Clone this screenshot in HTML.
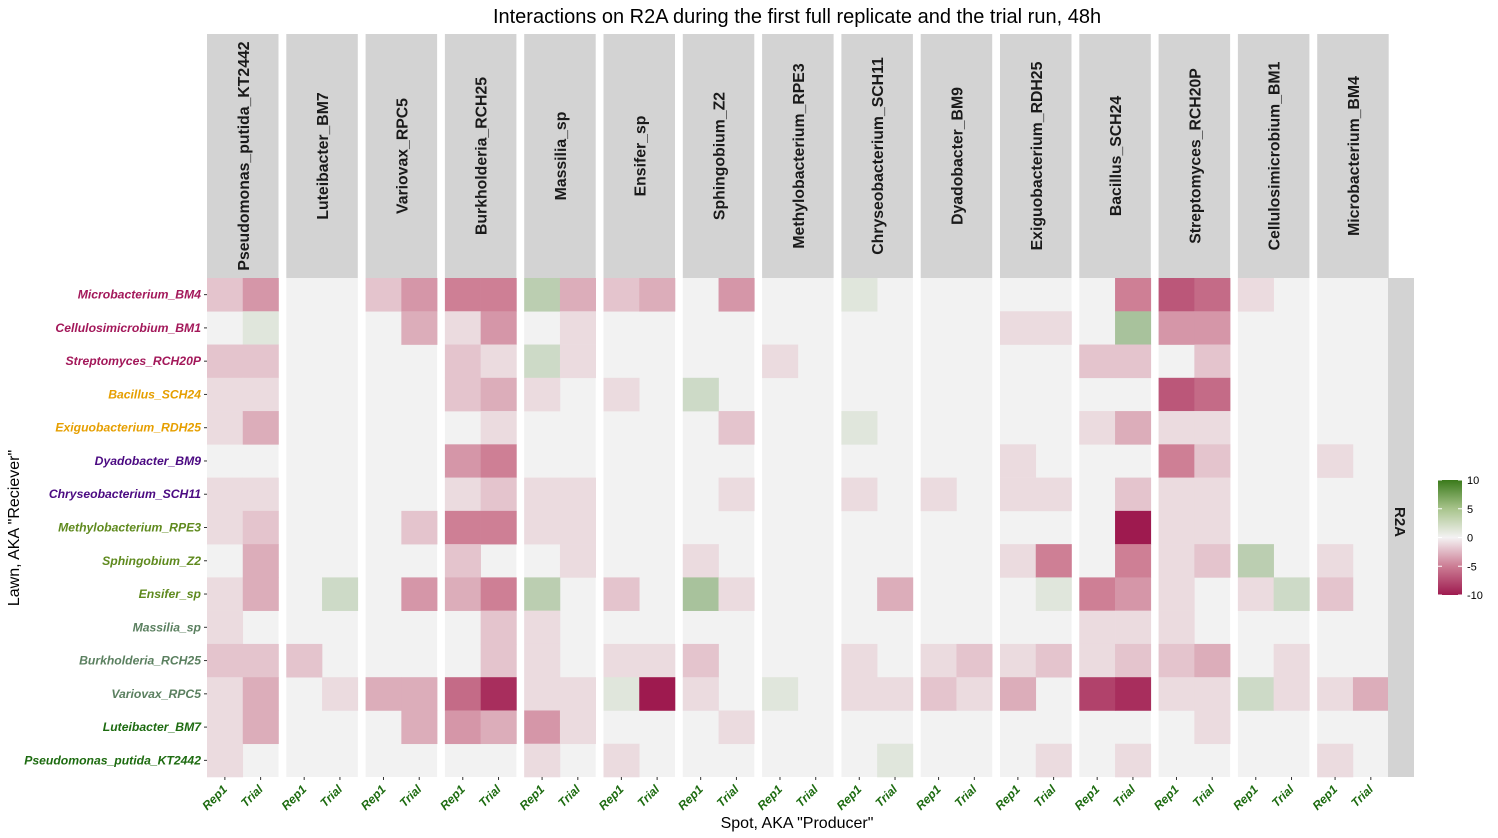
<!DOCTYPE html>
<html><head><meta charset="utf-8"><style>
html,body{margin:0;padding:0;background:#fff;}
svg{display:block;font-family:"Liberation Sans",Arial,sans-serif;}
</style></head><body>
<svg id="chart" width="1498" height="838" viewBox="0 0 1498 838" xmlns="http://www.w3.org/2000/svg">
<text x="797" y="23" text-anchor="middle" font-size="20" fill="#000">Interactions on R2A during the first full replicate and the trial run, 48h</text>
<g id="panels"></g>
<g id="ylabels"></g>
<g id="xlabels"></g>
<rect x="1388" y="278" width="26" height="499" fill="#d3d3d3"/>
<text transform="translate(1395,522) rotate(90)" text-anchor="middle" font-size="15" font-weight="bold" fill="#1a1a1a">R2A</text>
<text x="797" y="828" text-anchor="middle" font-size="16" fill="#000">Spot, AKA "Producer"</text>
<text transform="translate(19,528) rotate(-90)" text-anchor="middle" font-size="16" fill="#000">Lawn, AKA "Reciever"</text>
<defs><linearGradient id="lg" x1="0" y1="0" x2="0" y2="1">
<stop offset="0" stop-color="#3a7a1a"/><stop offset="0.25" stop-color="#a8c48c"/><stop offset="0.5" stop-color="#f4f2f3"/><stop offset="0.75" stop-color="#cc7d94"/><stop offset="1" stop-color="#9e1a4f"/></linearGradient></defs>
<g>
<rect x="1438" y="480" width="24" height="115" fill="url(#lg)"/>
<g id="legendticks"></g>
</g>
</svg>
<script>
const producers=["Pseudomonas_putida_KT2442","Luteibacter_BM7","Variovax_RPC5","Burkholderia_RCH25","Massilia_sp","Ensifer_sp","Sphingobium_Z2","Methylobacterium_RPE3","Chryseobacterium_SCH11","Dyadobacter_BM9","Exiguobacterium_RDH25","Bacillus_SCH24","Streptomyces_RCH20P","Cellulosimicrobium_BM1","Microbacterium_BM4"];
const subcols=["Rep1","Trial"];
const receivers=["Microbacterium_BM4","Cellulosimicrobium_BM1","Streptomyces_RCH20P","Bacillus_SCH24","Exiguobacterium_RDH25","Dyadobacter_BM9","Chryseobacterium_SCH11","Methylobacterium_RPE3","Sphingobium_Z2","Ensifer_sp","Massilia_sp","Burkholderia_RCH25","Variovax_RPC5","Luteibacter_BM7","Pseudomonas_putida_KT2442"];
const receiverColors=["#a3185a","#a3185a","#a3185a","#e69f00","#e69f00","#4b0a82","#4b0a82","#5f8a1e","#5f8a1e","#5f8a1e","#5b8060","#5b8060","#5b8060","#1d6b10","#1d6b10"];
const legendTicks=[10,5,0,-5,-10];
const n=null;
const row0=[-2,-4, n,n, -2,-4, -5,-5, 3,-3, -2,-3, n,-4, n,n, 1,n, n,n, n,n, n,-5, -7,-6, -1,n, n,n];
const row1=[n,1, n,n, n,-3, -1,-4, n,-1, n,n, n,n, n,n, n,n, n,n, -1,-1, n,4, -4,-4, n,n, n,n];
const row2=[-2,-2, n,n, n,n, -2,-1, 2,-1, n,n, n,n, -1,n, n,n, n,n, n,n, -2,-2, n,-2, n,n, n,n];
const row3=[-1,-1, n,n, n,n, -2,-3, -1,n, -1,n, 2,n, n,n, n,n, n,n, n,n, n,n, -7,-6, n,n, n,n];
const row4=[-1,-3, n,n, n,n, n,-1, n,n, n,n, n,-2, n,n, 1,n, n,n, n,n, -1,-3, -1,-1, n,n, n,n];
const row5=[n,n, n,n, n,n, -4,-5, n,n, n,n, n,n, n,n, n,n, n,n, -1,n, n,n, -5,-2, n,n, -1,n];
const row6=[-1,-1, n,n, n,n, -1,-2, -1,-1, n,n, n,-1, n,n, -1,n, -1,n, -1,-1, n,-2, -1,-1, n,n, n,n];
const row7=[-1,-2, n,n, n,-2, -5,-5, -1,-1, n,n, n,n, n,n, n,n, n,n, n,n, n,-10, -1,-1, n,n, n,n];
const row8=[n,-3, n,n, n,n, -2,n, n,-1, n,n, -1,n, n,n, n,n, n,n, -1,-5, n,-5, -1,-2, 3,n, -1,n];
const row9=[-1,-3, n,2, n,-4, -3,-5, 3,n, -2,n, 4,-1, n,n, n,-3, n,n, n,1, -5,-4, -1,n, -1,2, -2,n];
const row10=[-1,n, n,n, n,n, n,-2, -1,n, n,n, n,n, n,n, n,n, n,n, n,n, -1,-1, -1,n, n,n, n,n];
const row11=[-2,-2, -2,n, n,n, n,-2, -1,n, -1,-1, -2,n, n,n, -1,n, -1,-2, -1,-2, -1,-2, -2,-3, n,-1, n,n];
const row12=[-1,-3, n,-1, -3,-3, -6,-9, -1,-1, 1,-10, -1,n, 1,n, -1,-1, -2,-1, -3,n, -8,-9, -1,-1, 2,-1, -1,-3];
const row13=[-1,-3, n,n, n,-3, -4,-3, -4,-1, n,n, n,-1, n,n, n,n, n,n, n,n, n,n, n,-1, n,n, n,n];
const row14=[-1,n, n,n, n,n, n,n, -1,n, -1,n, n,n, n,n, n,1, n,n, n,-1, n,-1, n,n, n,n, -1,n];
const values=[row0,row1,row2,row3,row4,row5,row6,row7,row8,row9,row10,row11,row12,row13,row14];

const NS="http://www.w3.org/2000/svg";
const plotTop=278, plotBottom=777, panelX0=207, panelStep=79.3, panelW=71.5, stripTop=34;
const rowH=(plotBottom-plotTop)/receivers.length;
function xPanel(i){return panelX0+i*panelStep;}
function xCell(i,j){return xPanel(i)+j*panelW/subcols.length;}
function yRow(r){return plotTop+r*rowH;}
function lerp(a,b,t){return a.map((v,k)=>Math.round(v+(b[k]-v)*t));}
function colorFor(v){
  const z=[242,242,242];
  if(v<0){const t=Math.min(-v,10);
    if(t<=5)return "rgb("+lerp(z,[206,127,149],t/5)+")";
    return "rgb("+lerp([206,127,149],[158,26,79],(t-5)/5)+")";}
  const t=Math.min(v,10)/10; return "rgb("+lerp(z,[58,122,26],t)+")";
}
function mk(tag,attrs,parent){const e=document.createElementNS(NS,tag);for(const k in attrs)e.setAttribute(k,attrs[k]);parent.appendChild(e);return e;}
const gp=document.getElementById('panels');
producers.forEach((p,i)=>{
  const g=mk('g',{},gp);
  
  
  const strip=mk('rect',{x:xPanel(i),y:stripTop,width:panelW,height:plotTop-stripTop,fill:'#d3d3d3'},g);
  
  
  const cx=xPanel(i)+panelW/2+6, cy=(stripTop+plotTop)/2;
  const t=mk('text',{transform:'translate('+cx+','+cy+') rotate(-90)','text-anchor':'middle','font-size':'15.8','font-weight':'bold',fill:'#1a1a1a'},g);
  t.textContent=p;
  
  
  const bg=mk('rect',{x:xPanel(i),y:plotTop,width:panelW,height:plotBottom-plotTop,fill:'#f2f2f2'},g);
  
  
  receivers.forEach((rc,r)=>{
    subcols.forEach((s,j)=>{
      const v=values[r][i*2+j];
      if(v===null||v===undefined)return;
      const c=mk('rect',{x:xCell(i,j),y:yRow(r),width:panelW/2+0.3,height:rowH+0.3,fill:colorFor(v)},g);
      
      
    });
  });
  subcols.forEach((s,j)=>{
    const tx=xCell(i,j)+panelW/4;
    const tk=mk('line',{x1:tx,x2:tx,y1:plotBottom,y2:plotBottom+3,stroke:'#333','stroke-width':1},g);
    
    
    const lb=mk('text',{transform:'translate('+(tx+3)+','+(plotBottom+13)+') rotate(-45)','text-anchor':'end','font-size':'12','font-weight':'bold','font-style':'italic',fill:'#1d6b10'},g);
    lb.textContent=s;
    
    
  });
});
const gy=document.getElementById('ylabels');
receivers.forEach((rc,r)=>{
  const yc=yRow(r)+rowH/2;
  const tk=mk('line',{x1:204,x2:207,y1:yc,y2:yc,stroke:'#333','stroke-width':1},gy);
  
  
  const t=mk('text',{x:201,y:yc+4,'text-anchor':'end','font-size':'12.2','font-weight':'bold','font-style':'italic',fill:receiverColors[r]},gy);
  t.textContent=rc;
  
  
});
const gl=document.getElementById('legendticks');
legendTicks.forEach(v=>{
  const y=480+(10-v)/20*115;
  const l1=mk('line',{x1:1438,x2:1442,y1:y,y2:y,stroke:'#fff','stroke-width':1},gl);
  
  
  const l2=mk('line',{x1:1458,x2:1462,y1:y,y2:y,stroke:'#fff','stroke-width':1},gl);
  
  
  const t=mk('text',{x:1467,y:y+4,'font-size':'11',fill:'#000'},gl);
  t.textContent=String(v);
  
  
});
</script>
</body></html>
